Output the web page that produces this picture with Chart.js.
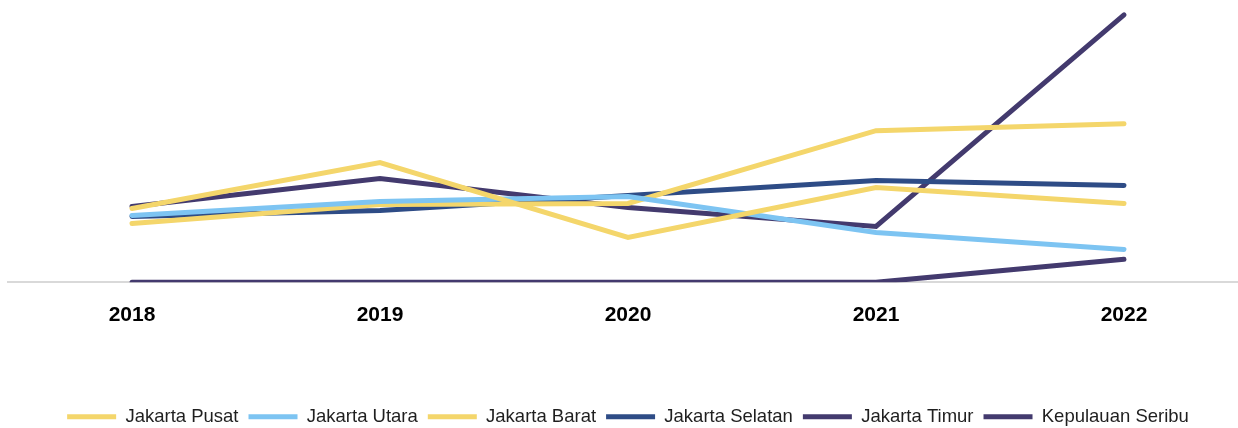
<!DOCTYPE html>
<html>
<head>
<meta charset="utf-8">
<script src="https://cdn.jsdelivr.net/npm/chart.js@4"></script>
<style>
  html, body { margin: 0; padding: 0; background: #fff; overflow: hidden; }
  #wrap { width: 1248px; height: 428px; position: relative; }
</style>
</head>
<body>
<div id="wrap"><canvas id="lineChart"></canvas></div>
<script>
// categories + series
const years = ['2018', '2019', '2020', '2021', '2022'];
const jakartaPusat = [7.4, 12.0, 4.5, 9.5, 7.9];
const jakartaUtara = [6.7, 8.1, 8.6, 5.0, 3.3];
const jakartaBarat = [5.9, 7.8, 7.9, 15.2, 15.9];
const jakartaSelatan = [6.6, 7.2, 8.7, 10.2, 9.7];
const jakartaTimur = [7.6, 10.4, 7.5, 5.6, 26.8];
const kepulauanSeribu = [0, 0, 0, 0, 2.3];

const seriesNames = ['Jakarta Pusat', 'Jakarta Utara', 'Jakarta Barat', 'Jakarta Selatan', 'Jakarta Timur', 'Kepulauan Seribu'];
const seriesData = [jakartaPusat, jakartaUtara, jakartaBarat, jakartaSelatan, jakartaTimur, kepulauanSeribu];
const seriesColors = ['#F4D66B', '#7DC4F2', '#F4D66B', '#2E4C86', '#433A6E', '#433A6E'];

let datasets = [];
for (let i = 0; i < seriesNames.length; i++) {
    datasets.push({
        label: seriesNames[i],
        data: seriesData[i],
        borderColor: seriesColors[i],
        backgroundColor: seriesColors[i],
        borderWidth: 5,
        borderCapStyle: 'round',
        borderJoinStyle: 'miter',
        pointRadius: 0,
        pointHoverRadius: 0,
        tension: 0,
        fill: false,
        pointStyle: 'line'
    });
}

const ctx = document.getElementById('lineChart').getContext('2d');
const chart = new Chart(ctx, {
    type: 'line',
    data: { labels: years, datasets: datasets },
    options: {
        responsive: true,
        maintainAspectRatio: false,
        animation: false,
        events: [],
        layout: { padding: { left: 8, right: 0, top: 0, bottom: -8 } },
        plugins: {
            tooltip: { enabled: false },
            legend: {
                position: 'bottom',
                labels: {
                    usePointStyle: true,
                    pointStyleWidth: 49,
                    boxHeight: 18,
                    padding: 10,
                    color: '#1F1F1F',
                    font: { family: 'Liberation Sans', size: 18.5 }
                }
            }
        },
        scales: {
            x: {
                offset: true,
                grid: { display: false, drawTicks: false },
                border: { display: true, color: '#D9D9D9', width: 2 },
                ticks: {
                    padding: 20,
                    color: '#000',
                    font: { family: 'Liberation Sans', size: 21, weight: 'bold' }
                },
                afterFit: function(scale) {
                    scale.height += 50;  // gap down to the legend
                }
            },
            y: {
                display: false,
                min: 0,
                max: 28.3
            }
        }
    }
});
</script>
</body>
</html>
